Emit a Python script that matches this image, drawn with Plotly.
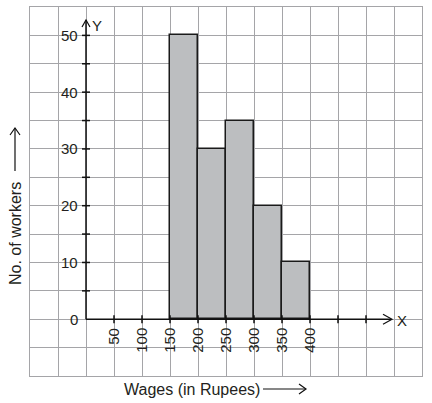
import plotly.graph_objects as go

# ---- data ----
wage_edges = [150, 200, 250, 300, 350, 400]
workers = [50, 30, 35, 20, 10]
x_tick_values = [50, 100, 150, 200, 250, 300, 350, 400]
x_tick_labels = ["50", "100", "150", "200", "250", "300", "350", "400"]
x_tick_marks = [50, 100, 150, 200, 250, 300, 350, 400, 450, 500]
y_tick_values = [0, 10, 20, 30, 40, 50]
y_tick_labels = ["0", "10", "20", "30", "40", "50"]
y_tick_marks = [5, 10, 15, 20, 25, 30, 35, 40, 45, 50]

# ---- geometry ----
W, H = 432, 403
ML, MR, MT, MB = 30, 10, 7, 27
XR = [-100, 600]
YR = [-10, 55]
pw = W - ML - MR
ph = H - MT - MB

def px(x):
    return ML + (x - XR[0]) / (XR[1] - XR[0]) * pw

def py(y):
    return MT + (YR[1] - y) / (YR[1] - YR[0]) * ph

def P(xp, yp):
    return (xp - ML) / pw, (H - MB - yp) / ph

GRID = "#a5a5a8"
TXT = "#231f20"
FONT = "Liberation Sans, Arial, sans-serif"

widths = [wage_edges[i + 1] - wage_edges[i] for i in range(len(workers))]

fig = go.Figure()
fig.add_trace(go.Bar(
    x=wage_edges[:-1], y=workers, width=widths, offset=0,
    marker=dict(color="#bcbec0", line=dict(color="#1a1a1a", width=1.5)),
    hoverinfo="skip", showlegend=False,
))

shapes = []
y_top_px = 20
x_end_px = 391
ax0 = px(0)
ay0 = py(0)

def path(points):
    s = ""
    for i, (a, b) in enumerate(points):
        xx, yy = P(a, b)
        s += ("M" if i == 0 else "L") + f"{xx:.5f},{yy:.5f} "
    return s

# axis lines
shapes.append(dict(type="path", xref="paper", yref="paper",
                   path=path([(ax0, ay0), (ax0, y_top_px)]),
                   line=dict(color="#111", width=1.5)))
shapes.append(dict(type="path", xref="paper", yref="paper",
                   path=path([(ax0, ay0), (x_end_px, ay0)]),
                   line=dict(color="#111", width=1.5)))
# arrowheads
shapes.append(dict(type="path", xref="paper", yref="paper",
                   path=path([(ax0 - 4, y_top_px + 7), (ax0, y_top_px), (ax0 + 4, y_top_px + 7)]),
                   line=dict(color="#111", width=1.2)))
shapes.append(dict(type="path", xref="paper", yref="paper",
                   path=path([(x_end_px - 8, ay0 - 5), (x_end_px + 1, ay0), (x_end_px - 8, ay0 + 5)]),
                   line=dict(color="#111", width=1.2)))
# tick marks
for v in y_tick_marks:
    shapes.append(dict(type="path", xref="paper", yref="paper",
                       path=path([(ax0 - 4, py(v)), (ax0 + 4, py(v))]),
                       line=dict(color="#111", width=1.5)))
for v in x_tick_marks:
    shapes.append(dict(type="path", xref="paper", yref="paper",
                       path=path([(px(v), ay0 - 4), (px(v), ay0 + 4)]),
                       line=dict(color="#111", width=1.5)))
# title arrows
shapes.append(dict(type="path", xref="paper", yref="paper",
                   path=path([(15, 171), (15, 128)]),
                   line=dict(color="#111", width=1.2)))
shapes.append(dict(type="path", xref="paper", yref="paper",
                   path=path([(10, 135), (15, 128), (20, 135)]),
                   line=dict(color="#111", width=1.2)))
shapes.append(dict(type="path", xref="paper", yref="paper",
                   path=path([(263, 389), (306, 389)]),
                   line=dict(color="#111", width=1.2)))
shapes.append(dict(type="path", xref="paper", yref="paper",
                   path=path([(299, 384), (306, 389), (299, 394)]),
                   line=dict(color="#111", width=1.2)))

ann = []
for v, t in zip(y_tick_values, y_tick_labels):
    x, y = P(ax0 - 6, py(v))
    ann.append(dict(x=x, y=y, xref="paper", yref="paper", text=t, showarrow=False,
                    xanchor="right", yanchor="middle", font=dict(size=15, color=TXT, family=FONT)))
for v, t in zip(x_tick_values, x_tick_labels):
    x, y = P(px(v), ay0 + 7)
    ann.append(dict(x=x, y=y, xref="paper", yref="paper", text=t, showarrow=False,
                    textangle=-90, xanchor="center", yanchor="top",
                    font=dict(size=15, color=TXT, family=FONT)))
x, y = P(97, 26)
ann.append(dict(x=x, y=y, xref="paper", yref="paper", text="Y", showarrow=False,
                xanchor="center", yanchor="middle", font=dict(size=15, color=TXT, family=FONT)))
x, y = P(402, 320)
ann.append(dict(x=x, y=y, xref="paper", yref="paper", text="X", showarrow=False,
                xanchor="center", yanchor="middle", font=dict(size=15, color=TXT, family=FONT)))
x, y = P(15, 234)
ann.append(dict(x=x, y=y, xref="paper", yref="paper", text="No. of workers", showarrow=False,
                textangle=-90, xanchor="center", yanchor="middle",
                font=dict(size=16, color=TXT, family=FONT)))
x, y = P(192, 389)
ann.append(dict(x=x, y=y, xref="paper", yref="paper", text="Wages (in Rupees)", showarrow=False,
                xanchor="center", yanchor="middle",
                font=dict(size=16, color=TXT, family=FONT)))

axis_common = dict(showgrid=True, gridcolor=GRID, gridwidth=1.3, zeroline=False,
                   showticklabels=False, ticks="", showline=True, linecolor=GRID,
                   linewidth=1.3, mirror=True, fixedrange=True)
fig.update_layout(
    width=W, height=H,
    margin=dict(l=ML, r=MR, t=MT, b=MB, pad=0),
    paper_bgcolor="white", plot_bgcolor="white",
    xaxis=dict(range=XR, tick0=0, dtick=50, **axis_common),
    yaxis=dict(range=YR, tick0=0, dtick=5, **axis_common),
    shapes=shapes, annotations=ann, bargap=0,
)
fig.write_html("out.html")
